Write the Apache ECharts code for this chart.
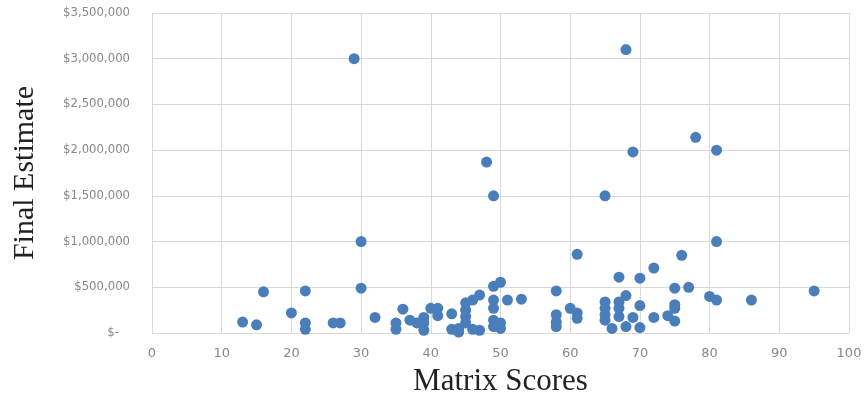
<!DOCTYPE html>
<html><head><meta charset="utf-8">
<script src="https://cdn.jsdelivr.net/npm/echarts@6/dist/echarts.min.js"></script>
<style>html,body{margin:0;padding:0;background:#fff}#c{width:865px;height:398px}</style>
</head><body><div id="c"></div>
<script>
const matrixScores = [13,15,16,20,22,22,22,26,27,29,30,30,32,35,35,36,37,38,39,39,39,40,41,41,43,43,44,44,45,45,45,45,46,47,46,47,48,49,49,50,49,49,49,49,50,50,51,53,58,58,58,58,60,61,61,61,65,65,65,65,65,66,67,67,67,67,68,68,68,69,69,70,70,70,72,72,74,75,75,75,75,76,77,78,80,81,81,81,86,95];
const finalEstimates = [120000,90000,450000,220000,460000,110000,40000,110000,110000,3000000,1000000,490000,170000,110000,40000,260000,140000,110000,170000,110000,30000,270000,270000,190000,210000,40000,50000,10000,330000,250000,180000,110000,360000,415000,40000,30000,1870000,1500000,510000,555000,360000,270000,140000,70000,110000,50000,360000,370000,460000,200000,120000,70000,270000,220000,160000,860000,1500000,340000,270000,200000,140000,50000,610000,340000,270000,180000,410000,70000,3100000,1980000,170000,600000,300000,60000,710000,170000,190000,490000,310000,270000,130000,850000,500000,2140000,400000,360000,2000000,1000000,360000,460000];
const xTitle = 'Matrix Scores';
const yTitle = 'Final Estimate';

const data = matrixScores.map((x, i) => [x, finalEstimates[i]]);
const chart = echarts.init(document.getElementById('c'));
const fmtMoney = v => v === 0 ? '$-   ' : '$' + v.toLocaleString('en-US');
chart.setOption({
  animation: false,
  grid: {left: 152, right: 16, top: 13, bottom: 65, containLabel: false, outerBoundsMode: 'none'},
  xAxis: {
    type: 'value', min: 0, max: 100, interval: 10,
    name: xTitle, nameLocation: 'middle', nameGap: 33,
    nameTextStyle: {fontFamily: 'Liberation Serif', fontSize: 31, color: '#222'},
    axisLine: {show: true, lineStyle: {color: '#d9d9d9'}},
    axisTick: {show: false},
    axisLabel: {color: '#888', fontSize: 13, fontFamily: 'DejaVu Sans', margin: 14},
    splitLine: {show: true, lineStyle: {color: '#d9d9d9'}}
  },
  yAxis: {
    type: 'value', min: 0, max: 3500000, interval: 500000,
    name: yTitle, nameLocation: 'middle', nameGap: 112, nameRotate: 90,
    nameTextStyle: {fontFamily: 'Liberation Serif', fontSize: 30, color: '#222'},
    axisLine: {show: false},
    axisTick: {show: false},
    axisLabel: {color: '#888', fontSize: 11.7, fontFamily: 'DejaVu Sans', margin: 22, formatter: fmtMoney},
    splitLine: {show: true, lineStyle: {color: '#d9d9d9'}}
  },
  series: [{
    type: 'scatter', data: data, symbolSize: 11,
    itemStyle: {color: '#4a7ebb', opacity: 1}
  }]
});
</script></body></html>
